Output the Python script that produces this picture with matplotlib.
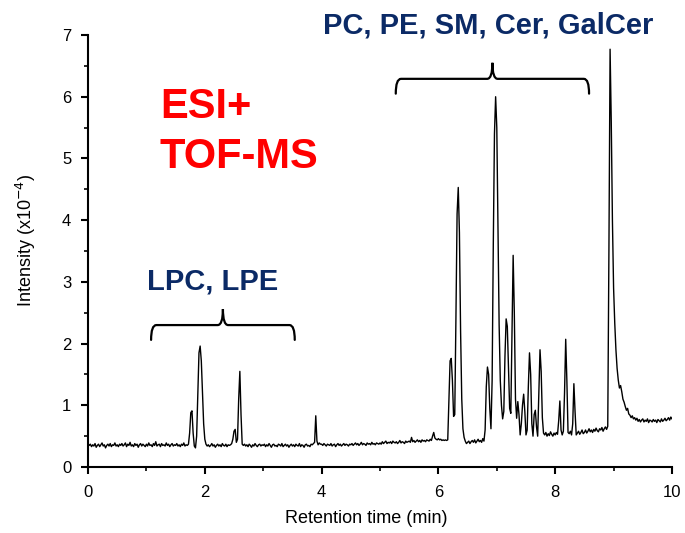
import numpy as np
import matplotlib
matplotlib.use("Agg")
import matplotlib.pyplot as plt
from matplotlib.path import Path
from matplotlib.patches import PathPatch

# chromatogram, sampled every 0.02 min from 0 to 10 min
# ------------------------------------------------------
rt = np.linspace(0, 10, 501)

intensity = [
    # 0.00 - 0.48
    0.38, 0.35, 0.37, 0.33, 0.36, 0.34, 0.38, 0.32, 0.35, 0.37, 0.33, 0.36, 0.39,
    0.34, 0.36, 0.31, 0.35, 0.37, 0.34, 0.38, 0.33, 0.36, 0.35, 0.39, 0.34,
    # 0.50 - 0.98
    0.36, 0.33, 0.37, 0.35, 0.38, 0.34, 0.36, 0.39, 0.33, 0.37, 0.35, 0.40, 0.34,
    0.36, 0.33, 0.38, 0.35, 0.37, 0.32, 0.36, 0.38, 0.34, 0.37, 0.35, 0.33,
    # 1.00 - 1.48
    0.37, 0.34, 0.39, 0.35, 0.36, 0.33, 0.38, 0.35, 0.41, 0.34, 0.36, 0.37, 0.33,
    0.38, 0.35, 0.36, 0.34, 0.39, 0.35, 0.37, 0.33, 0.36, 0.38, 0.34, 0.36,
    # 1.50 - 1.98
    0.35, 0.38, 0.34, 0.36, 0.33, 0.37, 0.35, 0.39, 0.34, 0.36, 0.35, 0.37, 0.55,
    0.88, 0.91, 0.55, 0.34, 0.31, 0.50, 1.20, 1.85, 1.96, 1.72, 1.22, 0.70,
    # 2.00 - 2.48
    0.45, 0.37, 0.34, 0.36, 0.33, 0.35, 0.38, 0.34, 0.36, 0.32, 0.35, 0.37, 0.34,
    0.36, 0.33, 0.38, 0.35, 0.34, 0.37, 0.33, 0.36, 0.35, 0.36, 0.38, 0.45,
    # 2.50 - 2.98
    0.58, 0.61, 0.40, 0.45, 1.10, 1.55, 0.85, 0.37, 0.35, 0.37, 0.34, 0.36, 0.33,
    0.37, 0.35, 0.32, 0.36, 0.34, 0.38, 0.35, 0.33, 0.36, 0.37, 0.34, 0.36,
    # 3.00 - 3.48
    0.35, 0.37, 0.33, 0.36, 0.34, 0.38, 0.35, 0.32, 0.36, 0.37, 0.34, 0.35, 0.33,
    0.37, 0.36, 0.34, 0.38, 0.33, 0.35, 0.37, 0.34, 0.36, 0.32, 0.35, 0.37,
    # 3.50 - 3.98
    0.34, 0.36, 0.33, 0.37, 0.35, 0.34, 0.38, 0.33, 0.36, 0.35, 0.32, 0.36, 0.37,
    0.34, 0.35, 0.33, 0.37, 0.36, 0.38, 0.40, 0.83, 0.42, 0.36, 0.39, 0.37,
    # 4.00 - 4.48
    0.37, 0.35, 0.38, 0.36, 0.34, 0.37, 0.36, 0.35, 0.38, 0.34, 0.36, 0.37, 0.33,
    0.36, 0.38, 0.35, 0.37, 0.34, 0.36, 0.38, 0.35, 0.37, 0.36, 0.34, 0.37,
    # 4.50 - 4.98
    0.36, 0.38, 0.35, 0.37, 0.39, 0.36, 0.38, 0.35, 0.37, 0.40, 0.36, 0.38, 0.37,
    0.35, 0.39, 0.37, 0.38, 0.36, 0.40, 0.37, 0.38, 0.36, 0.39, 0.38, 0.37,
    # 5.00 - 5.48
    0.39, 0.37, 0.41, 0.38, 0.40, 0.42, 0.38, 0.40, 0.39, 0.41, 0.38, 0.42, 0.40,
    0.39, 0.41, 0.38, 0.40, 0.43, 0.39, 0.41, 0.40, 0.38, 0.42, 0.40, 0.41,
    # 5.50 - 5.98
    0.42, 0.40, 0.48, 0.41, 0.43, 0.40, 0.42, 0.44, 0.41, 0.43, 0.40, 0.44, 0.42,
    0.43, 0.41, 0.44, 0.43, 0.42, 0.45, 0.43, 0.50, 0.56, 0.47, 0.45, 0.44,
    # 6.00 - 6.48
    0.46, 0.44, 0.45, 0.43, 0.44, 0.43, 0.44, 0.43, 0.44, 1.10, 1.72, 1.76, 1.40,
    0.82, 0.85, 2.40, 4.10, 4.53, 3.80, 2.20, 1.10, 0.62, 0.48, 0.42, 0.38,
    # 6.50 - 6.98
    0.40, 0.42, 0.38, 0.41, 0.43, 0.40, 0.44, 0.39, 0.42, 0.45, 0.41, 0.43, 0.40,
    0.46, 0.42, 0.60, 1.30, 1.62, 1.50, 0.95, 0.62, 1.40, 3.60, 5.40, 6.00,
    # 7.00 - 7.48
    5.50, 3.90, 2.30, 1.40, 1.00, 0.78, 0.90, 1.80, 2.40, 2.28, 1.60, 0.95, 0.87,
    2.10, 3.43, 2.50, 1.10, 0.79, 1.06, 0.85, 0.52, 0.70, 1.00, 1.18, 0.90,
    # 7.50 - 7.98
    0.52, 0.60, 1.30, 1.85, 1.50, 0.70, 0.50, 0.85, 0.92, 0.65, 0.50, 1.20, 1.90,
    1.55, 0.80, 0.55, 0.52, 0.56, 0.50, 0.54, 0.51, 0.57, 0.53, 0.50, 0.55,
    # 8.00 - 8.48
    0.52, 0.56, 0.53, 0.75, 1.07, 0.60, 0.52, 0.58, 1.20, 2.07, 1.40, 0.56, 0.54,
    0.58, 0.52, 0.70, 1.35, 0.90, 0.52, 0.55, 0.58, 0.53, 0.56, 0.60, 0.54,
    # 8.50 - 8.98
    0.56, 0.60, 0.55, 0.58, 0.62, 0.57, 0.60, 0.56, 0.61, 0.58, 0.63, 0.59, 0.57,
    0.62, 0.60, 0.64, 0.58, 0.62, 0.65, 0.61, 0.66, 3.50, 6.77, 5.60, 4.00,
    # 9.00 - 9.48
    2.90, 2.33, 1.90, 1.60, 1.41, 1.28, 1.32, 1.22, 1.10, 1.05, 0.98, 0.92, 0.95,
    0.86, 0.84, 0.80, 0.83, 0.78, 0.80, 0.76, 0.79, 0.74, 0.77, 0.73, 0.76,
    # 9.50 - 9.98
    0.78, 0.73, 0.76, 0.74, 0.78, 0.72, 0.76, 0.75, 0.73, 0.77, 0.74, 0.76, 0.72,
    0.77, 0.75, 0.73, 0.78, 0.74, 0.76, 0.79, 0.75, 0.77, 0.80, 0.76, 0.81,
    # 10.00
    0.78,
]

# lipid class groups: (label, start, end) in min
groups = [("LPC, LPE", 1.08, 3.54), ("PC, PE, SM, Cer, GalCer", 5.27, 8.58)]
brace_levels = [2.30, 6.29]
label_pos = [(2.13, 2.88), (6.85, 7.02)]

navy = "#0b2a66"
plt.rcParams["font.family"] = ["Liberation Sans", "DejaVu Sans"]


def draw_brace(ax, x0, x1, y, hook=0.24, tip=0.26, r=0.09):
    xm = (x0 + x1) / 2
    verts = [(x0, y - hook), (x0, y), (x0 + r, y),
             (xm - r, y), (xm, y), (xm, y + tip),
             (xm, y), (xm + r, y),
             (x1 - r, y), (x1, y), (x1, y - hook)]
    codes = [Path.MOVETO, Path.CURVE3, Path.CURVE3,
             Path.LINETO, Path.CURVE3, Path.CURVE3,
             Path.CURVE3, Path.CURVE3,
             Path.LINETO, Path.CURVE3, Path.CURVE3]
    ax.add_patch(PathPatch(Path(verts, codes), fill=False, lw=1.6,
                           ec="black", capstyle="round", clip_on=False))


fig = plt.figure(figsize=(6.85, 5.33), dpi=100)
ax = fig.add_axes([0.1285, 0.1238, 0.8525, 0.8105])

ax.plot(rt, intensity, color="black", lw=1.0)

ax.set_xlim(0, 10)
ax.set_ylim(0, 7)
ax.set_xticks(np.arange(0, 11, 2))
ax.set_xticks(np.arange(1, 10, 2), minor=True)
ax.set_yticks(np.arange(0, 8, 1))
ax.set_yticks(np.arange(0.5, 7, 1), minor=True)
for side in ["top", "right"]:
    ax.spines[side].set_visible(False)
for side in ["left", "bottom"]:
    ax.spines[side].set_linewidth(1.5)
ax.tick_params(which="major", direction="out", length=5, width=1.5, labelsize=12)
ax.tick_params(axis="x", which="major", pad=8)
ax.tick_params(axis="y", which="major", pad=7)
ax.tick_params(which="minor", direction="out", length=3, width=1.2)

ax.set_xlabel("Retention time (min)", fontsize=13)
ax.set_ylabel(r"Intensity (x10$^{-4}$)", fontsize=13)
ax.xaxis.set_label_coords(0.476, -0.1)
ax.yaxis.set_label_coords(-0.086, 0.525)

for (label, x0, x1), yb, (xl, yl) in zip(groups, brace_levels, label_pos):
    draw_brace(ax, x0, x1, yb)
    ax.text(xl, yl, label, color=navy, fontsize=21,
            fontweight="bold", ha="center", va="baseline", clip_on=False)

ax.text(1.23, 5.66, "ESI+", color="red", fontsize=30, fontweight="bold",
        ha="left", va="baseline")
ax.text(1.23, 4.85, "TOF-MS", color="red", fontsize=30, fontweight="bold",
        ha="left", va="baseline")

fig.savefig("out.png", dpi=100)
